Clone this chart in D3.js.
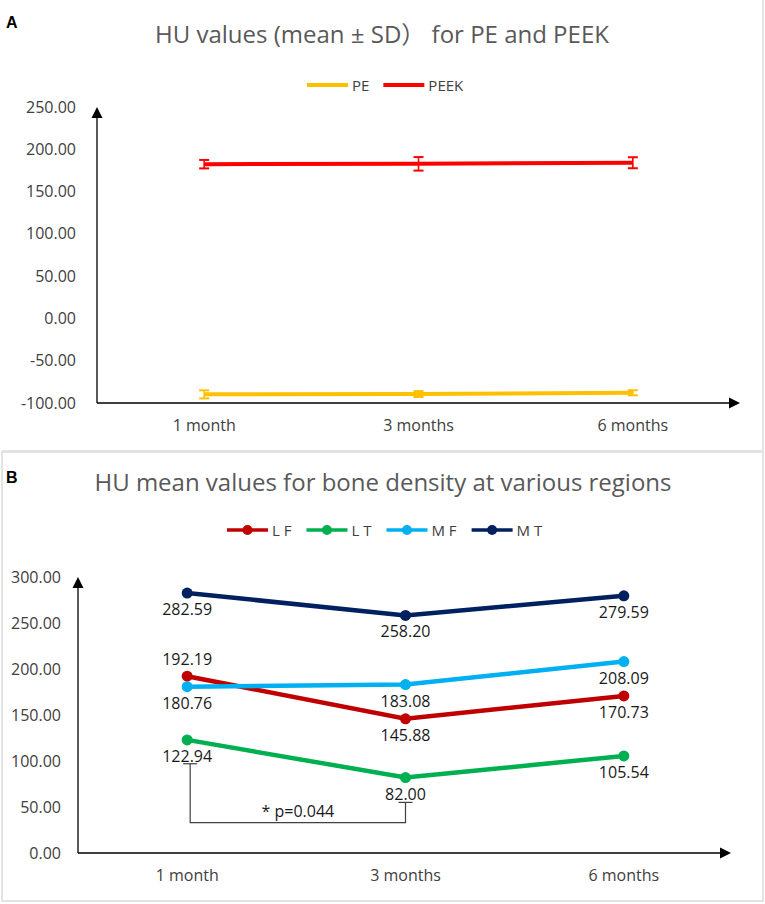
<!DOCTYPE html>
<html>
<head>
<meta charset="utf-8">
<script src="https://cdn.jsdelivr.net/npm/d3@7"></script>
<style>
  html, body { margin: 0; padding: 0; background: #fff; }
  svg { display: block; font-family: "Open Sans", sans-serif; }
</style>
</head>
<body>
<div id="chart"></div>
<script>
// categories shared by both panels
const categories = ['1 month', '3 months', '6 months'];

// panel A: mean and SD
const peMean = [-89.8, -89.4, -87.9];
const peSD = [4.8, 3.5, 3.0];
const peekMean = [182.4, 182.8, 184.1];
const peekSD = [5.0, 8.0, 6.5];
const ticksA = [-100, -50, 0, 50, 100, 150, 200, 250];

// panel B: mean HU per region
const regions = ['L F', 'L T', 'M F', 'M T'];
const lfValues = [192.19, 145.88, 170.73];
const ltValues = [122.94, 82.00, 105.54];
const mfValues = [180.76, 183.08, 208.09];
const mtValues = [282.59, 258.20, 279.59];
const ticksB = [0, 50, 100, 150, 200, 250, 300];

// significance bracket between LT at 1 and 3 months
const sigFrom = '1 month';
const sigTo = '3 months';
const sigLeftTop = 97;
const sigRightTop = 55;
const sigBase = 33;
const sigText = '* p=0.044';

const W = 765, H = 904;
const fmt = d => d.toFixed(2);
const svg = d3.select('#chart').append('svg')
    .attr('width', W)
    .attr('height', H);

// panel frames
svg.append('path')
    .attr('d', `M763,0V451H2`)
    .attr('fill', 'none')
    .attr('stroke', '#e3e3e3')
    .attr('stroke-width', 2);
svg.append('rect')
    .attr('x', 2).attr('y', 452)
    .attr('width', 761).attr('height', 449)
    .attr('fill', 'none')
    .attr('stroke', '#e3e3e3')
    .attr('stroke-width', 2);

function arrowAxes(g, x0, x1, y0, y1) {
    // y axis with arrow up, x axis with arrow right
    g.append('line').attr('x1', x0).attr('x2', x0).attr('y1', y0).attr('y2', y1 + 8)
        .attr('stroke', '#000').attr('stroke-width', 1.3);
    g.append('path').attr('d', `M${x0},${y1}L${x0 - 5.5},${y1 + 11}L${x0 + 5.5},${y1 + 11}Z`).attr('fill', '#000');
    g.append('line').attr('x1', x0).attr('x2', x1 - 8).attr('y1', y0).attr('y2', y0)
        .attr('stroke', '#000').attr('stroke-width', 1.3);
    g.append('path').attr('d', `M${x1},${y0}L${x1 - 11},${y0 - 5.5}L${x1 - 11},${y0 + 5.5}Z`).attr('fill', '#000');
}

function styleTicks(sel) {
    sel.select('.domain').remove();
    sel.selectAll('text')
        .attr('fill', '#404040')
        .style('font-size', '16px')
        .style('font-family', '"Open Sans", sans-serif');
}

function addTitle(g, x, y, parts) {
    const t = g.append('text').attr('x', x).attr('y', y).attr('text-anchor', 'middle')
        .attr('fill', '#595959').style('font-size', '24px');
    parts.forEach(p => {
        const ts = t.append('tspan').text(p.text);
        if (p.font) ts.style('font-family', p.font);
    });
}

// ---------------- Panel A ----------------
const gA = svg.append('g');
gA.append('text').attr('x', 6).attr('y', 28)
    .text('A').style('font-weight', 'bold').style('font-size', '16px')
    .style('font-family', '"Liberation Sans", Arial, sans-serif');
addTitle(gA, 382, 43, [
    { text: 'HU values (mean ± SD' },
    { text: '）', font: '"Noto Sans CJK JP"' },
    { text: ' for PE and PEEK' }
]);

const xA = d3.scaleBand().domain(categories).range([97, 740]);
const yA = d3.scaleLinear().domain([-100, 250]).range([403, 107]);

gA.append('g').attr('transform', 'translate(97,0)')
    .call(d3.axisLeft(yA).tickValues(ticksA).tickSize(0).tickPadding(21).tickFormat(fmt))
    .call(styleTicks);
gA.append('g').attr('transform', 'translate(0,403)')
    .call(d3.axisBottom(xA).tickSize(0).tickPadding(17))
    .call(styleTicks);
arrowAxes(gA, 97, 740, 403, 107);

const seriesA = [
    { name: 'PE', mean: peMean, sd: peSD, color: '#FFC000' },
    { name: 'PEEK', mean: peekMean, sd: peekSD, color: '#FF0000' }
];
const cxA = c => xA(c) + xA.bandwidth() / 2;
const lineA = d3.line().x(d => cxA(d.c)).y(d => yA(d.v));

seriesA.forEach(s => {
    const pts = categories.map((c, i) => ({ c, v: s.mean[i], sd: s.sd[i] }));
    const eb = gA.append('g').attr('stroke', s.color).attr('stroke-width', 1.6);
    pts.forEach(p => {
        const x = cxA(p.c);
        eb.append('line').attr('x1', x).attr('x2', x).attr('y1', yA(p.v - p.sd)).attr('y2', yA(p.v + p.sd));
        eb.append('line').attr('x1', x - 5).attr('x2', x + 5).attr('y1', yA(p.v - p.sd)).attr('y2', yA(p.v - p.sd)).attr('stroke-width', 2);
        eb.append('line').attr('x1', x - 5).attr('x2', x + 5).attr('y1', yA(p.v + p.sd)).attr('y2', yA(p.v + p.sd)).attr('stroke-width', 2);
    });
    gA.append('path').datum(pts)
        .attr('d', lineA)
        .attr('fill', 'none')
        .attr('stroke', s.color)
        .attr('stroke-width', 4);
});

// legend A
let lx = 307;
seriesA.forEach(s => {
    gA.append('line').attr('x1', lx).attr('x2', lx + 41).attr('y1', 85).attr('y2', 85)
        .attr('stroke', s.color).attr('stroke-width', 4);
    const t = gA.append('text').attr('x', lx + 45).attr('y', 90.5)
        .attr('fill', '#404040').style('font-size', '15px').text(s.name);
    lx += 45 + t.node().getComputedTextLength() + 14;
});

// ---------------- Panel B ----------------
const gB = svg.append('g');
gB.append('text').attr('x', 6).attr('y', 483)
    .text('B').style('font-weight', 'bold').style('font-size', '16px')
    .style('font-family', '"Liberation Sans", Arial, sans-serif');
addTitle(gB, 383, 491, [{ text: 'HU mean values for bone density at various regions' }]);

const xB = d3.scaleBand().domain(categories).range([78, 733]);
const yB = d3.scaleLinear().domain([0, 300]).range([853, 577]);
const cxB = c => xB(c) + xB.bandwidth() / 2;

gB.append('g').attr('transform', 'translate(78,0)')
    .call(d3.axisLeft(yB).tickValues(ticksB).tickSize(0).tickPadding(17).tickFormat(fmt))
    .call(styleTicks);
gB.append('g').attr('transform', 'translate(0,853)')
    .call(d3.axisBottom(xB).tickSize(0).tickPadding(17))
    .call(styleTicks);
arrowAxes(gB, 78, 731, 853, 577);

const seriesB = [
    { name: regions[0], values: lfValues, color: '#C00000', above: [true, false, false] },
    { name: regions[1], values: ltValues, color: '#00B050', above: [false, false, false] },
    { name: regions[2], values: mfValues, color: '#00B0F0', above: [false, false, false] },
    { name: regions[3], values: mtValues, color: '#002060', above: [false, false, false] }
];
const lineB = d3.line().x(d => cxB(d.c)).y(d => yB(d.v));

seriesB.forEach(s => {
    const pts = categories.map((c, i) => ({ c, v: s.values[i], above: s.above[i] }));
    gB.append('path').datum(pts)
        .attr('d', lineB)
        .attr('fill', 'none')
        .attr('stroke', s.color)
        .attr('stroke-width', 4.5);
    gB.selectAll(null).data(pts).enter().append('circle')
        .attr('cx', d => cxB(d.c)).attr('cy', d => yB(d.v)).attr('r', 5.5)
        .attr('fill', s.color);
});

// data labels drawn after lines
seriesB.forEach(s => {
    const pts = categories.map((c, i) => ({ c, v: s.values[i], above: s.above[i] }));
    gB.selectAll(null).data(pts).enter().append('text')
        .attr('x', d => cxB(d.c))
        .attr('y', d => yB(d.v) + (d.above ? -11 : 22))
        .attr('text-anchor', 'middle')
        .attr('fill', '#1a1a1a')
        .style('font-size', '16px')
        .text(d => fmt(d.v));
});

// significance bracket
const bx1 = cxB(sigFrom) + 3, bx2 = cxB(sigTo);
const br = gB.append('g').attr('stroke', '#404040').attr('stroke-width', 1.2).attr('fill', 'none');
br.append('path').attr('d', `M${bx1},${yB(sigLeftTop)}V${yB(sigBase)}H${bx2}V${yB(sigRightTop)}`);
br.append('line').attr('x1', bx1 - 7).attr('x2', bx1 + 7).attr('y1', yB(sigLeftTop)).attr('y2', yB(sigLeftTop));
br.append('line').attr('x1', bx2 - 7).attr('x2', bx2 + 7).attr('y1', yB(sigRightTop)).attr('y2', yB(sigRightTop));
gB.append('text').attr('x', (bx1 + bx2) / 2).attr('y', yB(sigBase) - 6)
    .attr('text-anchor', 'middle').attr('fill', '#1a1a1a')
    .style('font-size', '16px').text(sigText);

// legend B
let lbx = 227;
seriesB.forEach(s => {
    gB.append('line').attr('x1', lbx).attr('x2', lbx + 41).attr('y1', 530).attr('y2', 530)
        .attr('stroke', s.color).attr('stroke-width', 3.5);
    gB.append('circle').attr('cx', lbx + 20.5).attr('cy', 530).attr('r', 5).attr('fill', s.color);
    const t = gB.append('text').attr('x', lbx + 45).attr('y', 535.5)
        .attr('fill', '#404040').style('font-size', '15px').text(s.name);
    lbx += 45 + t.node().getComputedTextLength() + 15;
});
</script>
</body>
</html>
